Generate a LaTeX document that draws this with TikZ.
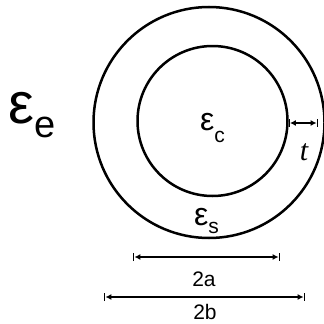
\documentclass[tikz,border=0pt]{standalone}
\usepackage{fontspec}
\setmainfont{Liberation Sans}
\newfontfamily\serifit{Liberation Serif}
\usetikzlibrary{arrows.meta}
\tikzset{
  ring/.style={circle, draw=black, line width=2.5pt, inner sep=0pt},
  dimline/.style={line width=1.6pt, {Bar[width=8pt,line width=1.4pt].Latex[length=6pt,width=6pt]}-{Latex[length=6pt,width=6pt].Bar[width=8pt,line width=1.4pt]}},
  lbl/.style={inner sep=0pt, font=\fontsize{21}{21}\selectfont},
}
\newcommand{\epsl}[4]{{\fontsize{#1}{#1}\selectfont ε}\raisebox{-#3pt}{\fontsize{#2}{#2}\selectfont #4}}
\begin{document}
\begin{tikzpicture}[x=1pt,y=-1pt]
\useasboundingbox (0,0) rectangle (324,324);
\fill[white] (0,0) rectangle (324,324);
\node[ring, minimum size=231pt] (outer) at (209,122.5) {};
\node[ring, minimum size=150pt] (inner) at (212.5,121) {};
\node[anchor=base west, inner sep=0pt] (ee) at (8,123) {\epsl{58}{38}{14}{e}};
\node[anchor=base west, inner sep=0pt] (ec) at (200,130) {\epsl{32}{21}{12}{c}};
\node[anchor=base west, inner sep=0pt] (es) at (194,225) {\epsl{32}{21}{8}{s}};
\coordinate (ta) at (288.5,123);
\coordinate (tb) at (318,123);
\draw[dimline] (ta) -- (tb);
\node[inner sep=0pt, font=\serifit\itshape\fontsize{30}{30}\selectfont] (t) at (304,152) {t};
\coordinate (a1) at (133,257);
\coordinate (a2) at (280,257);
\draw[dimline] (a1) -- (a2);
\node[lbl] (la) at (204,279) {2a};
\coordinate (b1) at (104,297);
\coordinate (b2) at (305,297);
\draw[dimline] (b1) -- (b2);
\node[lbl] (lb) at (205,312) {2b};
\end{tikzpicture}
\end{document}
